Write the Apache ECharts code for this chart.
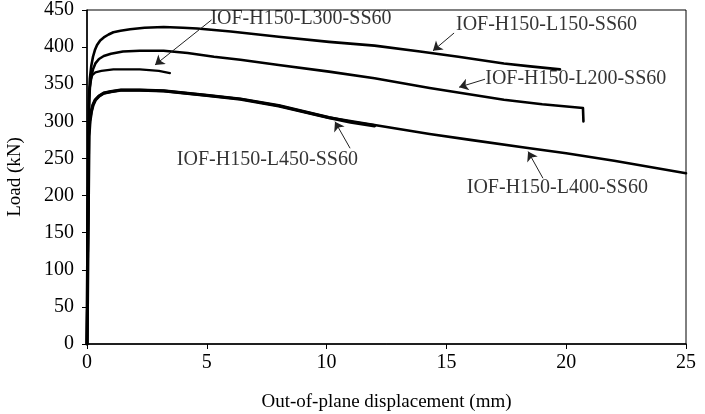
<!DOCTYPE html>
<html>
<head>
<meta charset="utf-8">
<script src="https://cdn.jsdelivr.net/npm/echarts@6/dist/echarts.min.js"></script>
<style>
  html, body { margin: 0; padding: 0; background: #fff; }
  #chart { width: 705px; height: 414px; }
</style>
</head>
<body>
<div id="chart"></div>
<script>
// Load-displacement curves: [displacement (mm), load (kN)]
const curveL150 = [[0,0],[0.05,200],[0.08,330],[0.12,358],[0.18,375],[0.25,387],[0.33,396],[0.42,403],[0.55,409],[0.7,413],[0.9,417],[1.1,420],[1.4,422],[1.8,424],[2.4,426],[3.2,427],[4.0,426],[4.6,425],[6.0,421],[8.0,414],[10.1,407],[12.0,402],[13.9,394],[15.5,387],[17.4,378],[18.5,374],[19.74,370]];
const curveL200 = [[0,0],[0.05,200],[0.08,320],[0.12,345],[0.18,360],[0.25,370],[0.35,378],[0.5,384],[0.7,388],[1.0,391],[1.5,394],[2.2,395],[3.2,395],[4.2,392],[5.3,387],[6.4,383],[8.0,376],[10.1,367],[12.0,358],[14.3,345],[17.4,329],[19.0,323],[20.7,318],[20.72,300]];
const curveL300 = [[0,0],[0.05,200],[0.1,340],[0.15,355],[0.22,362],[0.35,366],[0.6,368],[1.1,370],[2.2,370],[3.0,368],[3.46,365]];
const curveL450 = [[0,0],[0.04,150],[0.08,280],[0.12,300],[0.18,313],[0.25,322],[0.35,329],[0.5,334],[0.7,338],[1.0,340],[1.4,342],[2.2,342],[3.2,341],[5.0,335],[6.4,330],[8.0,321],[10.1,305],[11.0,299],[12.0,294]];
const curveL400 = [[0,0],[0.04,150],[0.08,280],[0.12,300],[0.18,313],[0.25,322],[0.35,329],[0.5,334],[0.7,338],[1.0,340],[1.4,342],[2.2,342],[3.2,341],[5.0,335],[6.4,330],[8.0,321],[10.1,305],[12.0,295],[14.3,283],[16.0,275],[18.4,264],[20.0,257],[22.0,247],[25.0,230]];

// Annotation labels (anchor of left edge) and arrows, in data units
const labelNames = ['IOF-H150-L300-SS60', 'IOF-H150-L150-SS60', 'IOF-H150-L200-SS60', 'IOF-H150-L450-SS60', 'IOF-H150-L400-SS60'];
const labelAnchors = [[5.15, 438], [15.4, 430], [16.62, 357], [3.75, 248], [15.85, 211]];
const arrows = [
    [[5.2, 436.7], [2.84, 376]],
    [[15.32, 419], [14.44, 395]],
    [[16.61, 356.7], [15.53, 346]],
    [[10.98, 263.7], [10.35, 299.6]],
    [[19.03, 223.3], [18.41, 259.2]]
];

const FONT = 'Liberation Serif';
const chart = echarts.init(document.getElementById('chart'));

function curve(data, width) {
    return {
        type: 'line',
        data: data,
        showSymbol: false,
        smooth: false,
        lineStyle: { color: '#000', width: width, join: 'round', cap: 'round' },
        silent: true,
        z: 3
    };
}

const option = {
    animation: false,
    backgroundColor: '#fff',
    grid: {
        left: 87, right: 19, top: 10, bottom: 70,
        outerBoundsMode: 'none',
        show: true, borderColor: '#000', borderWidth: 1
    },
    xAxis: {
        type: 'value',
        min: 0, max: 25, interval: 5,
        name: 'Out-of-plane displacement (mm)',
        nameLocation: 'middle',
        nameGap: 49,
        nameTextStyle: { fontFamily: FONT, fontSize: 19, color: '#000' },
        axisLine: { lineStyle: { color: '#000', width: 1.5 } },
        axisTick: { show: true, length: 5, lineStyle: { color: '#000' } },
        axisLabel: { fontFamily: FONT, fontSize: 20, color: '#000', margin: 9 },
        splitLine: { show: false }
    },
    yAxis: {
        type: 'value',
        min: 0, max: 450, interval: 50,
        name: 'Load (kN)',
        nameLocation: 'middle',
        nameGap: 62,
        nameTextStyle: { fontFamily: FONT, fontSize: 19, color: '#000' },
        axisLine: { show: true, lineStyle: { color: '#000', width: 1.5 } },
        axisTick: { show: true, length: 5, lineStyle: { color: '#000' } },
        axisLabel: { fontFamily: FONT, fontSize: 20, color: '#000', margin: 13 },
        splitLine: { show: false }
    },
    series: [
        curve(curveL150, 2.6),
        curve(curveL200, 2.6),
        curve(curveL300, 2.2),
        curve(curveL450, 3.4),
        curve(curveL400, 2.6),
        {
            type: 'lines',
            coordinateSystem: 'cartesian2d',
            data: arrows.map(a => ({ coords: a })),
            symbol: ['none', 'arrow'],
            symbolSize: 9,
            lineStyle: { color: '#222', width: 1, opacity: 1 },
            silent: true,
            z: 4
        },
        {
            type: 'scatter',
            data: labelAnchors.map((p, i) => ({ value: p, name: labelNames[i] })),
            symbolSize: 0,
            label: {
                show: true,
                position: 'right',
                distance: 0,
                formatter: '{b}',
                fontFamily: FONT,
                fontSize: 20,
                color: '#000'
            },
            silent: true,
            z: 5
        }
    ]
};

chart.setOption(option);
</script>
</body>
</html>
